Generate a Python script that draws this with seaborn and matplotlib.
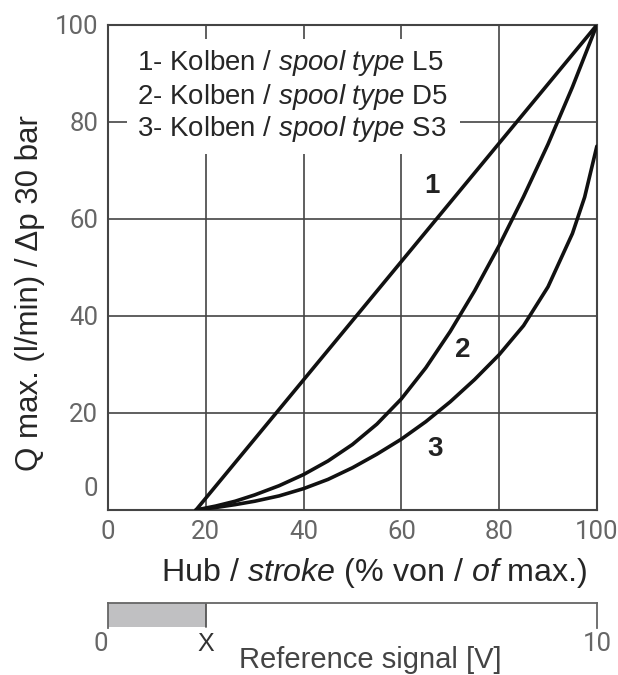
"""
plot.py

Flow vs. stroke characteristic for three spool types.
"""

import matplotlib
matplotlib.use("Agg")
import matplotlib.pyplot as plt
import seaborn as sns
import pandas as pd
from matplotlib.patches import Rectangle

# curve data (stroke in %, flow in l/min)
stroke_1 = [18, 100]
flow_1 = [0, 100]

stroke_2 = [18, 22, 26, 30, 35, 40, 45, 50, 55, 60, 65, 70, 75, 80, 85, 90, 95, 100]
flow_2 = [0, 0.8, 1.8, 3.1, 5.0, 7.3, 10.1, 13.5, 17.7, 22.9, 29.3, 36.8, 45.2, 54.5, 64.6, 75.4, 87.2, 100]

stroke_3 = [18, 22, 26, 30, 35, 40, 45, 50, 55, 60, 65, 70, 75, 80, 85, 90, 95, 97.5, 100]
flow_3 = [0, 0.5, 1.1, 1.8, 2.9, 4.4, 6.3, 8.7, 11.5, 14.6, 18.2, 22.3, 26.9, 32.0, 38.0, 46.0, 57.0, 64.5, 75]

spool_types = ["L5", "D5", "S3"]
curve_labels = ["1", "2", "3"]
curve_label_x = [66.3, 72.6, 66.9]
curve_label_y = [66.8, 33, 12.5]

x_ticks = [0, 20, 40, 60, 80, 100]
y_ticks = [20, 40, 60, 80, 100]

signal_ticks = [0, 2, 10]
signal_labels = ["0", "X", "10"]
signal_x = 2

df = pd.concat([
    pd.DataFrame({"stroke": stroke_1, "flow": flow_1, "spool": spool_types[0]}),
    pd.DataFrame({"stroke": stroke_2, "flow": flow_2, "spool": spool_types[1]}),
    pd.DataFrame({"stroke": stroke_3, "flow": flow_3, "spool": spool_types[2]}),
])

sns.set_style("white")
plt.rcParams["font.family"] = ["Liberation Sans", "DejaVu Sans"]
plt.rcParams["mathtext.fontset"] = "custom"
plt.rcParams["mathtext.rm"] = "Liberation Sans"
plt.rcParams["mathtext.it"] = "Liberation Sans:italic"

tick_font = dict(family=["Roboto", "DejaVu Sans"], size=18.5, color="#666666", weight="normal")
frame_col = "#444444"


def style_tick(lbl):
    lbl.set_fontfamily(tick_font["family"])
    lbl.set_fontsize(tick_font["size"])
    lbl.set_color(tick_font["color"])
    lbl.set_fontweight(tick_font["weight"])


fig = plt.figure(figsize=(6.18, 6.75), dpi=100)
ax = fig.add_axes([0.1748, 0.2445, 0.791, 0.7185])

ax.set_axisbelow(True)
ax.grid(True, color=frame_col, lw=1.2)
for s in ax.spines.values():
    s.set_color(frame_col)
    s.set_linewidth(1.5)

sns.lineplot(
    data=df, x="stroke", y="flow", hue="spool",
    palette={k: "#111111" for k in spool_types},
    sort=False, estimator=None, legend=False, lw=2.6, ax=ax, zorder=3,
)

ax.set_xlim(0, 100)
ax.set_ylim(0, 100)
ax.set_xticks(x_ticks)
ax.set_yticks(y_ticks)
ax.tick_params(length=0, pad=7)
for lbl in ax.get_xticklabels() + ax.get_yticklabels():
    style_tick(lbl)

# "0" on the y-axis sits a bit above the baseline
ax.annotate("0", xy=(0, 0), xycoords=("axes fraction", "data"),
            xytext=(-7, 15), textcoords="offset points",
            ha="right", va="center", **tick_font)

ax.set_xlabel(r"Hub / $\mathit{stroke}$ (% von / $\mathit{of}$ max.)", fontsize=23.2)
ax.set_ylabel("Q max. (l/min) / Δp 30 bar", fontsize=22.5)
ax.xaxis.set_label_coords(0.544, -0.095)
ax.yaxis.set_label_coords(-0.128, 0.447)

# white panel behind the spool list
ax.add_patch(Rectangle((0.039, 0.733), 0.681, 0.238, transform=ax.transAxes,
                       fc="white", ec="none", zorder=1))
legend_y = [92.2, 85.2, 78.6]
for i, (num, sp) in enumerate(zip(curve_labels, spool_types)):
    ax.text(5.9, legend_y[i], rf"{num}- Kolben / $\mathit{{spool\ type}}$ {sp}",
            fontsize=19.9, ha="left", va="center", zorder=4)

for lab, lx, ly in zip(curve_labels, curve_label_x, curve_label_y):
    ax.text(lx, ly, lab, fontsize=20, fontweight="bold", ha="center",
            va="center", color="#222222", zorder=4)

# reference signal bar
ax2 = fig.add_axes([0.1748, 0.0696, 0.791, 0.0366])
ax2.set_xlim(0, 10)
ax2.set_ylim(0, 1)
ax2.set_yticks([])
ax2.spines["bottom"].set_visible(False)
for side in ["top", "left", "right"]:
    ax2.spines[side].set_color("#666666")
    ax2.spines[side].set_linewidth(1.3)
ax2.axvspan(0, signal_x, ymin=0.05, ymax=1, fc="#c0c0c2", ec="none")
ax2.axvline(signal_x, ymin=0.05, ymax=1, color="#555555", lw=1.3)

ax2.set_xticks(signal_ticks)
ax2.set_xticklabels(signal_labels)
ax2.tick_params(length=0, pad=3)
for lbl in ax2.get_xticklabels():
    if lbl.get_text() == "X":
        lbl.set_fontsize(18)
        lbl.set_color("#333333")
    else:
        style_tick(lbl)
ax2.get_xticklabels()[0].set_horizontalalignment("right")

ax2.set_xlabel("Reference signal [V]", fontsize=21, color="#444444")
ax2.xaxis.set_label_coords(0.536, -0.72)

fig.savefig("out.png", dpi=100)
